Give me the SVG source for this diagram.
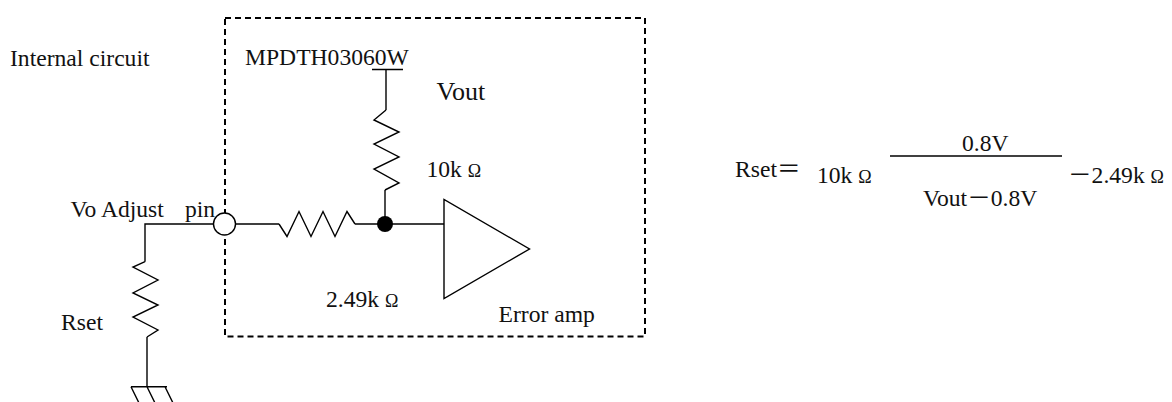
<svg xmlns="http://www.w3.org/2000/svg" width="1172" height="402" viewBox="0 0 1172 402">
<style>
.t{font-family:'Liberation Serif','Noto Sans CJK JP',serif;font-size:23.6px;fill:#111}
.w{fill:none;stroke:#000;stroke-width:1.4;stroke-linejoin:miter}
.o{font-size:18px}
</style>
<rect width="1172" height="402" fill="#fff"/>
<g id="internal-box">
<rect x="225" y="18" width="420" height="318.5" fill="none" stroke="#000" stroke-width="2" stroke-dasharray="6 4"/>
</g>
<g id="connectors">
<path class="w" d="M372,69.5 H403 M386,69.5 V110"/>
<path class="w" d="M385,190 V224"/>
<path class="w" d="M235.5,224 H279 M355,224 H444"/>
<path class="w" d="M213.5,224 H145 V261.7"/>
<path class="w" d="M147,337 V386.7"/>
</g>
<g id="r10k">
<path class="w" d="M386,110 L374,120 L399,132 L374,144 L399,157 L374,169 L399,183 L385,190"/>
</g>
<g id="r249k">
<path class="w" d="M279,224 L287,236.5 L299,211.5 L311,236.5 L323,211.5 L335,236.5 L347,211.5 L355,224"/>
</g>
<g id="rset">
<path class="w" d="M145,261.7 L133,267 L158,280 L133,293 L158,305 L133,317 L158,330 L147,337"/>
</g>
<g id="ground">
<path class="w" d="M131,386.7 H167 M131,386.7 L139,403 M147,386.7 L155,403 M165,386.7 L173,403"/>
</g>
<g id="junction">
<circle cx="385" cy="224" r="8" fill="#000"/>
</g>
<g id="pin">
<circle cx="224.5" cy="224" r="11" fill="#fff" stroke="#000" stroke-width="1.4"/>
</g>
<g id="error-amp">
<polygon class="w" points="444,199.5 444,298.5 529.5,249" fill="#fff"/>
</g>
<g id="labels">
<text class="t" x="10" y="65.5">Internal circuit</text>
<text class="t" x="245" y="65">MPDTH03060W</text>
<text class="t" x="436.5" y="99.5" style="font-size:26px">Vout</text>
<text class="t" x="426.5" y="176.5">10k <tspan class="o">Ω</tspan></text>
<text class="t" x="70.5" y="217">Vo Adjust</text>
<text class="t" x="185" y="217">pin</text>
<text class="t" x="326" y="307">2.49k <tspan class="o">Ω</tspan></text>
<text class="t" x="498.5" y="321.5">Error amp</text>
<text class="t" x="61" y="330">Rset</text>
</g>
<g id="formula">
<text class="t" x="735" y="177">Rset＝</text>
<text class="t" x="817" y="183">10k <tspan class="o">Ω</tspan></text>
<line x1="890" y1="156" x2="1062" y2="156" stroke="#000" stroke-width="1.4"/>
<text class="t" x="962" y="151">0.8V</text>
<text class="t" x="923" y="206">Vout－0.8V</text>
<text class="t" x="1068" y="183">－2.49k <tspan class="o">Ω</tspan></text>
</g>
</svg>
